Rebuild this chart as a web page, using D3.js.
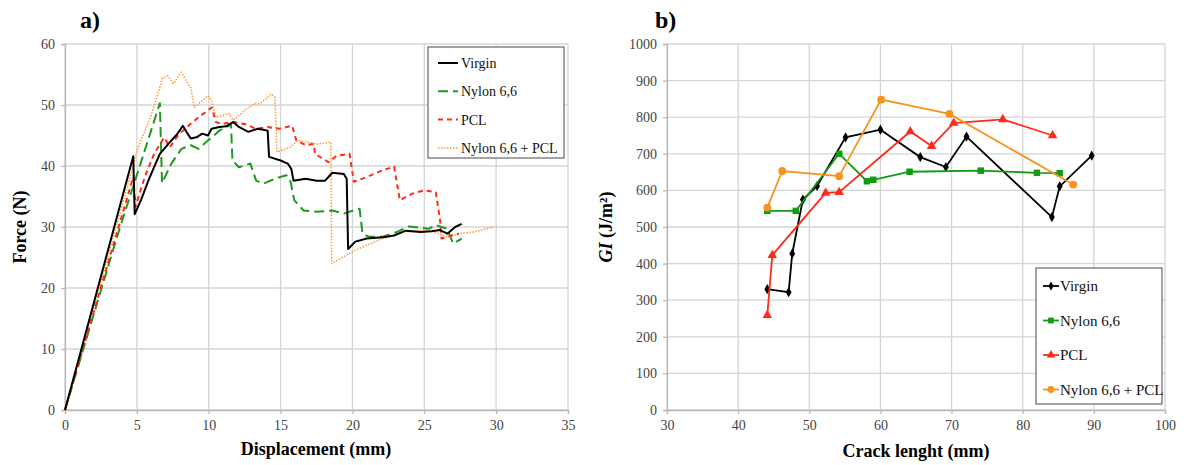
<!DOCTYPE html>
<html lang="en">
<head>
<meta charset="utf-8">
<title>Force-displacement and GI curves</title>
<script src="https://cdn.jsdelivr.net/npm/d3@7"></script>
<style>
body { margin: 0; background: #fff; }
svg text { font-family: "Liberation Serif", "Times New Roman", serif; }
</style>
</head>
<body>
<script>
var seriesNames = ["Virgin", "Nylon 6,6", "PCL", "Nylon 6,6 + PCL"];

// panel a) : [displacement (mm), force (N)]
var virginForce = [[0,0],[4.75,41.6],[4.85,32.1],[5.3,34.5],[5.8,37.6],[6.2,39.8],[6.6,42],[7.3,43.9],[7.8,45.2],[8.2,46.6],[8.45,45.6],[8.75,44.5],[9.15,44.7],[9.55,45.3],[9.95,45],[10.2,46.1],[10.75,46.4],[11.2,46.5],[11.7,47.2],[12.1,46.4],[12.75,45.6],[13.4,46.1],[14.1,45.8],[14.2,41.5],[15,40.9],[15.5,40.4],[15.75,39.5],[15.9,37.6],[16.75,37.9],[17.5,37.6],[18.1,37.6],[18.6,38.9],[19.4,38.7],[19.6,37.9],[19.7,26.4],[20.2,27.6],[21,28.1],[22.1,28.3],[22.9,28.6],[23.7,29.4],[24.75,29.2],[25.5,29.3],[26.1,29.5],[26.6,28.9],[27.15,30],[27.6,30.5]];
var nylonForce = [[0,0],[3.7,29],[5,38.5],[6.6,50.3],[6.75,37.2],[7.4,40.4],[8.1,42.8],[8.75,43.4],[9.3,42.8],[9.95,44.2],[10.75,45.8],[11.4,46.6],[11.55,46.9],[11.65,40.9],[12.1,39.8],[12.9,40.4],[13.3,37.6],[13.8,37.1],[14.6,37.9],[15.4,38.5],[15.7,37.4],[15.95,34.4],[16.6,32.7],[17.55,32.5],[18.6,32.7],[19.4,32.2],[20.2,32.8],[20.5,33],[20.7,28.9],[21.15,28.4],[22.1,28.4],[23.1,29.2],[23.95,30.1],[25.3,29.7],[25.8,30.3],[26.6,29.7],[27,27.3],[27.4,27.8],[27.6,28.1]];
var pclForce = [[0,0],[4.75,38.2],[4.9,33.3],[5.55,38.2],[6.2,42],[6.9,44.7],[7.3,43.1],[7.95,45.3],[8.5,46.4],[9.3,48],[9.95,49.1],[10.2,49.6],[10.5,47.2],[10.9,46.9],[11.7,47.2],[12.5,46.9],[13.3,46.1],[14.1,46.4],[14.9,46.1],[15.8,46.6],[16.1,44.2],[16.75,43.4],[17.3,43.6],[17.4,42],[18.35,40.6],[18.9,41.7],[19.8,42],[20.1,37.4],[21,38.2],[22.1,39.3],[22.9,39.9],[23.3,34.4],[24.2,35.5],[25,36],[25.8,35.7],[26.1,31.1],[26.2,28.1],[26.9,28.6],[27.4,28.9]];
var blendForce = [[0,0],[4.75,40],[5,42.5],[5.95,48],[6.6,52.9],[6.75,54.3],[7.15,54.8],[7.55,53.5],[8.1,55.4],[8.5,53.7],[8.75,52.9],[9,49.6],[9.55,50.7],[9.95,51.5],[10.2,50.7],[10.5,48],[11,48.3],[11.4,48.6],[11.7,47.5],[12.5,49.1],[13.15,50.2],[13.55,50.2],[14.35,51.8],[14.6,51.3],[14.75,42.3],[15.7,43.1],[16.2,44.2],[17.55,43.6],[18.5,43.9],[18.55,24],[18.9,24.5],[20.2,26.2],[22.1,28.1],[23.7,29.2],[25.3,29.5],[26.6,28.4],[27.4,28.9],[28.5,29.2],[29.8,30]];

// panel b) : [crack length (mm), GI (J/m2)]
var virginGI = [[44.1,330],[47.1,322],[47.6,427],[49.1,575],[51.1,612],[55.1,745],[60,766],[65.6,691],[69.2,664],[72.1,747],[84.1,527],[85.2,611],[89.7,695]];
var nylonGI = [[44.1,544],[48.1,544],[54.2,700],[58.1,625],[59,629],[64.1,651],[74.1,654],[82,648],[85.2,647]];
var pclGI = [[44.1,259],[44.8,423],[52.3,593],[54.2,595],[64.2,761],[67.2,721],[70.3,784],[77.2,794],[84.2,750]];
var blendGI = [[44.1,553],[46.2,653],[54.2,639],[60.1,848],[69.7,809],[87.1,616]];

var xTicksA = [0,5,10,15,20,25,30,35];
var yTicksA = [0,10,20,30,40,50,60];
var xTicksB = [30,40,50,60,70,80,90,100];
var yTicksB = [0,100,200,300,400,500,600,700,800,900,1000];

var w = 1186, h = 465;
var gridColor = "#d4d4d4";
var serif = "Liberation Serif, Times New Roman, serif";

var svg = d3.select("body").append("svg")
    .attr("width", w).attr("height", h);

function drawFrame(x, y, xTicks, yTicks) {
    var g = svg.append("g");
    var x0 = x.range()[0], x1 = x.range()[1];
    var y0 = y.range()[0], y1 = y.range()[1];

    g.selectAll("line.hgrid").data(yTicks).enter().append("line")
        .attr("x1", x0).attr("x2", x1)
        .attr("y1", function(d){ return y(d); }).attr("y2", function(d){ return y(d); })
        .attr("stroke", gridColor).attr("stroke-width", 1.3);
    g.selectAll("line.vgrid").data(xTicks).enter().append("line")
        .attr("y1", y0).attr("y2", y1)
        .attr("x1", function(d){ return x(d); }).attr("x2", function(d){ return x(d); })
        .attr("stroke", gridColor).attr("stroke-width", 1.3);

    var ax = g.append("g").attr("transform", "translate(0," + y0 + ")")
        .call(d3.axisBottom(x).tickValues(xTicks).tickFormat(d3.format("d")).tickSize(4).tickPadding(6));
    var ay = g.append("g").attr("transform", "translate(" + x0 + ",0)")
        .call(d3.axisLeft(y).tickValues(yTicks).tickFormat(d3.format("d")).tickSize(4).tickPadding(6));
    [ax, ay].forEach(function(a){
        a.attr("font-family", serif).attr("font-size", 14);
        a.select(".domain").attr("stroke", "#b8b8b8").attr("stroke-width", 1.3);
        a.selectAll(".tick line").attr("stroke", "#b8b8b8").attr("stroke-width", 1.3);
        a.selectAll(".tick text").attr("fill", "#444");
    });
}

// ---------- panel a ----------
var xa = d3.scaleLinear().domain([0, 35]).range([65, 568]);
var ya = d3.scaleLinear().domain([0, 60]).range([410, 44]);
drawFrame(xa, ya, xTicksA, yTicksA);

var styleA = [
    {data: virginForce, color: "#000000", width: 2, dash: null},
    {data: nylonForce, color: "#1f9a1f", width: 2, dash: "10,5"},
    {data: pclForce, color: "#ff2a1a", width: 2, dash: "5,4"},
    {data: blendForce, color: "#ff9a30", width: 1.5, dash: "1.5,1.5"}
];
var lineA = d3.line().x(function(d){ return xa(d[0]); }).y(function(d){ return ya(d[1]); });

// draw back to front so black sits on top like the original
[3, 1, 2, 0].forEach(function(i){
    var s = styleA[i];
    svg.append("path").datum(s.data)
        .attr("fill", "none").attr("stroke", s.color)
        .attr("stroke-width", s.width)
        .attr("stroke-dasharray", s.dash)
        .attr("stroke-linejoin", "round")
        .attr("d", lineA);
});

// legend a
svg.append("rect").attr("x", 428).attr("y", 47).attr("width", 136).attr("height", 111)
    .attr("fill", "#fff").attr("stroke", "#666").attr("stroke-width", 1.2);
styleA.forEach(function(s, i){
    var ly = 63 + i * 28.3;
    svg.append("line").attr("x1", 438).attr("x2", 458).attr("y1", ly).attr("y2", ly)
        .attr("stroke", s.color).attr("stroke-width", s.width)
        .attr("stroke-dasharray", s.dash);
    svg.append("text").attr("x", 461).attr("y", ly + 5)
        .style("font-size", "14px").attr("fill", "#111")
        .text(seriesNames[i]);
});

svg.append("text").attr("x", 80).attr("y", 28)
    .style("font-size", "24px").style("font-weight", "bold").text("a)");
svg.append("text").attr("x", 316).attr("y", 455).attr("text-anchor", "middle")
    .style("font-size", "18px").style("font-weight", "bold").text("Displacement (mm)");
svg.append("text").attr("transform", "translate(26,227) rotate(-90)").attr("text-anchor", "middle")
    .style("font-size", "18px").style("font-weight", "bold").text("Force (N)");

// ---------- panel b ----------
var xb = d3.scaleLinear().domain([30, 100]).range([667, 1165]);
var yb = d3.scaleLinear().domain([0, 1000]).range([410, 44]);
drawFrame(xb, yb, xTicksB, yTicksB);

var styleB = [
    {data: virginGI, color: "#000000", shape: d3.symbolDiamond, size: 30},
    {data: nylonGI, color: "#139a13", shape: d3.symbolSquare, size: 42},
    {data: pclGI, color: "#ff2a1a", shape: d3.symbolTriangle, size: 40},
    {data: blendGI, color: "#f7931e", shape: d3.symbolCircle, size: 48}
];
var lineB = d3.line().x(function(d){ return xb(d[0]); }).y(function(d){ return yb(d[1]); });

styleB.forEach(function(s){
    svg.append("path").datum(s.data)
        .attr("fill", "none").attr("stroke", s.color).attr("stroke-width", 1.8)
        .attr("d", lineB);
    svg.append("g").selectAll("path").data(s.data).enter().append("path")
        .attr("d", d3.symbol().type(s.shape).size(s.size))
        .attr("transform", function(d){ return "translate(" + xb(d[0]) + "," + yb(d[1]) + ")"; })
        .attr("fill", s.color);
});

// legend b
svg.append("rect").attr("x", 1036).attr("y", 268).attr("width", 126).attr("height", 136)
    .attr("fill", "#fff").attr("stroke", "#666").attr("stroke-width", 1.2);
styleB.forEach(function(s, i){
    var ly = 286 + i * 34.5;
    svg.append("line").attr("x1", 1043).attr("x2", 1059).attr("y1", ly).attr("y2", ly)
        .attr("stroke", s.color).attr("stroke-width", 1.8);
    svg.append("path").attr("d", d3.symbol().type(s.shape).size(s.size * 0.8))
        .attr("transform", "translate(1051," + ly + ")").attr("fill", s.color);
    svg.append("text").attr("x", 1060).attr("y", ly + 5)
        .style("font-size", "15px").attr("fill", "#111")
        .text(seriesNames[i]);
});

svg.append("text").attr("x", 655).attr("y", 28)
    .style("font-size", "24px").style("font-weight", "bold").text("b)");
svg.append("text").attr("x", 916).attr("y", 457).attr("text-anchor", "middle")
    .style("font-size", "18px").style("font-weight", "bold").text("Crack lenght (mm)");
var gt = svg.append("text").attr("transform", "translate(612,227) rotate(-90)").attr("text-anchor", "middle")
    .style("font-size", "18px").style("font-weight", "bold");
gt.append("tspan").style("font-style", "italic").text("GI");
gt.append("tspan").text(" (J/m\u00B2)");
</script>
</body>
</html>
